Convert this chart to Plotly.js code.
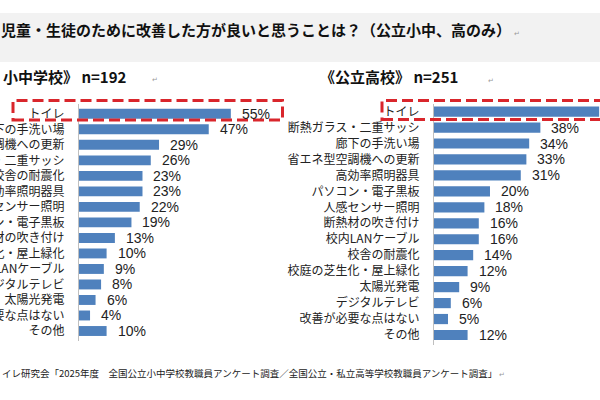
<!DOCTYPE html>
<html>
<head>
<meta charset="utf-8">
<script src="https://cdn.plot.ly/plotly-3.0.1.min.js"></script>
<style>
  html, body { margin: 0; padding: 0; background: #ffffff; }
  #chart { width: 600px; height: 400px; }
</style>
</head>
<body>
<div id="chart"></div>
<script>
// 《公立小中学校》 n=192
const categoriesShochu = [
  'トイレ', '廊下の手洗い場', '省エネ型空調機への更新', '断熱ガラス・二重サッシ',
  '校舎の耐震化', '高効率照明器具', '人感センサー照明', 'パソコン・電子黒板',
  '断熱材の吹き付け', '校庭の芝生化・屋上緑化', '校内LANケーブル', 'デジタルテレビ',
  '太陽光発電', '改善が必要な点はない', 'その他'
];
const valuesShochu = [55, 47, 29, 26, 23, 23, 22, 19, 13, 10, 9, 8, 6, 4, 10];

// 《公立高校》 n=251
const categoriesKoko = [
  'トイレ', '断熱ガラス・二重サッシ', '廊下の手洗い場', '省エネ型空調機への更新',
  '高効率照明器具', 'パソコン・電子黒板', '人感センサー照明', '断熱材の吹き付け',
  '校内LANケーブル', '校舎の耐震化', '校庭の芝生化・屋上緑化', '太陽光発電',
  'デジタルテレビ', '改善が必要な点はない', 'その他'
];
const valuesKoko = [59, 38, 34, 33, 31, 20, 18, 16, 16, 14, 12, 9, 6, 5, 12];

const W = 600, H = 400;
const px = x => x / W;          // pixel -> paper x
const py = y => 1 - y / H;      // pixel -> paper y

const JP = '"Noto Sans CJK JP", "Noto Sans", sans-serif';
const NUM = '"Liberation Sans", Arial, sans-serif';
const BAR = '#4f81bd';
const TXT = '#222222';
const RED = '#d9262c';

const rangeShochu = [0, 73.9];
const rangeKoko = [0, 59.3];

function barTrace(cats, vals, xa, ya) {
  return {
    type: 'bar', orientation: 'h',
    x: vals, y: cats, xaxis: xa, yaxis: ya,
    marker: { color: BAR, line: { width: 0 } },
    hoverinfo: 'skip', showlegend: false
  };
}

// value labels placed just past each bar end
function valueLabels(cats, vals, xref, yref, range) {
  const out = [];
  cats.forEach((c, i) => {
    if (vals[i] > range[1] * 0.9) return; // label would fall outside the page
    out.push({
      xref: xref, yref: yref, x: vals[i], y: c,
      text: vals[i] + '%', showarrow: false,
      xanchor: 'left', yanchor: 'middle', xshift: 9,
      font: { family: NUM, size: 14, color: TXT }
    });
  });
  return out;
}

function returnMark(x, y) {
  return {
    xref: 'paper', yref: 'paper', x: px(x), y: py(y), text: '↵',
    showarrow: false, xanchor: 'left', yanchor: 'middle',
    font: { family: '"DejaVu Sans", sans-serif', size: 7, color: '#9a9a9a' }
  };
}

const catAxis = {
  type: 'category', autorange: 'reversed',
  showline: true, linecolor: '#bfbfbf', linewidth: 1,
  showgrid: false, zeroline: false, ticks: '',
  ticklabelstandoff: 11,
  tickfont: { family: JP, size: 12, color: TXT }
};

const layout = {
  width: W, height: H,
  margin: { l: 0, r: 0, t: 0, b: 0 },
  paper_bgcolor: '#ffffff', plot_bgcolor: 'rgba(0,0,0,0)',
  bargap: 0.36,
  title: {
    text: '児童・生徒のために改善した方が良いと思うことは？（公立小中、高のみ）',
    x: px(1), xref: 'paper', xanchor: 'left',
    y: py(31), yref: 'paper', yanchor: 'middle',
    font: { family: JP, size: 15, weight: 'bold', color: '#111111' }
  },
  xaxis: {
    domain: [px(79), px(283)], range: rangeShochu, anchor: 'y',
    visible: false, fixedrange: true
  },
  yaxis: Object.assign({}, catAxis, {
    domain: [py(341), py(103.8)], anchor: 'x'
  }),
  xaxis2: {
    domain: [px(434), 1], range: rangeKoko, anchor: 'y2',
    visible: false, fixedrange: true
  },
  yaxis2: Object.assign({}, catAxis, {
    domain: [py(345), py(103.6)], anchor: 'x2'
  }),
  shapes: [
    // grey heading band
    { type: 'rect', xref: 'paper', yref: 'paper', layer: 'below',
      x0: 0, x1: 1, y0: py(62), y1: py(13),
      fillcolor: '#f2f2f2', line: { width: 0 } },
    // highlight boxes round the toilet row
    { type: 'rect', xref: 'paper', yref: 'paper', layer: 'above',
      x0: px(13), x1: px(282.5), y0: py(120), y1: py(100.5),
      fillcolor: 'rgba(0,0,0,0)', line: { color: RED, width: 3, dash: '11px,5px' } },
    { type: 'rect', xref: 'paper', yref: 'paper', layer: 'above',
      x0: px(382), x1: px(612), y0: py(119.5), y1: py(100.5),
      fillcolor: 'rgba(0,0,0,0)', line: { color: RED, width: 3, dash: '11px,5px' } }
  ],
  annotations: [
    { xref: 'paper', yref: 'paper', x: px(1), y: py(76.5),
      text: '小中学校》 n=192', showarrow: false, xanchor: 'left', yanchor: 'middle',
      font: { family: JP, size: 15, weight: 'bold', color: '#111111' } },
    { xref: 'paper', yref: 'paper', x: px(318), y: py(76.5),
      text: '《公立高校》 n=251', showarrow: false, xanchor: 'left', yanchor: 'middle',
      font: { family: JP, size: 15, weight: 'bold', color: '#111111' } },
    { xref: 'paper', yref: 'paper', x: 0, y: py(373),
      text: 'イレ研究会「2025年度　全国公立小中学校教職員アンケート調査／全国公立・私立高等学校教職員アンケート調査」',
      showarrow: false, xanchor: 'left', yanchor: 'middle',
      font: { family: JP, size: 9.5, color: TXT } },
    returnMark(512, 34),
    returnMark(150, 80),
    returnMark(486, 81),
    returnMark(497, 375)
  ]
    .concat(valueLabels(categoriesShochu, valuesShochu, 'x', 'y', rangeShochu))
    .concat(valueLabels(categoriesKoko, valuesKoko, 'x2', 'y2', rangeKoko))
};

const data = [
  barTrace(categoriesShochu, valuesShochu, 'x', 'y'),
  barTrace(categoriesKoko, valuesKoko, 'x2', 'y2')
];

Plotly.newPlot('chart', data, layout, { displayModeBar: false, staticPlot: true });
</script>
</body>
</html>
